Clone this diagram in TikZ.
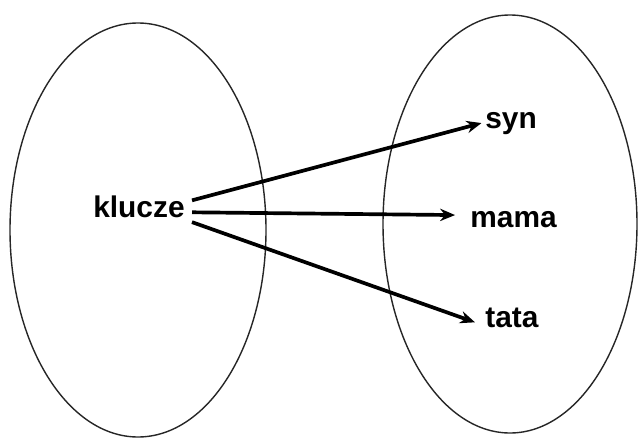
\documentclass[tikz,border=0pt]{standalone}
\usepackage{fontspec}
\setmainfont{Liberation Sans}
\usepackage{tikz}
\usetikzlibrary{
    arrows.meta,
    calc,
    positioning
}

\begin{document}
\begin{tikzpicture}[x=0.02cm, y=-0.02cm,
    word/.style={font=\fontsize{17}{20}\selectfont\bfseries, inner sep=2pt},
    set/.style={draw=black!85, line width=0.8pt},
    maps/.style={line width=2.1pt, -{Stealth[length=8.5pt, width=7pt]}}]
                                \useasboundingbox (0, 0) rectangle (638, 439);
                                \draw[set] (138, 230) ellipse [x radius=128, y radius=207];
                                \draw[set] (510, 224) ellipse [x radius=127, y radius=209];
                                \node[word, anchor=base east] (klucze) at (188.5, 217) {klucze};
                                \node[word, anchor=base west] (syn) at (481.5, 128) {syn};
                                \node[word, anchor=base west] (mama) at (466.5, 227) {mama};
                                \node[word, anchor=base west] (tata) at (481.5, 327) {tata};
                                \draw[maps] ([xshift=2pt, yshift=3.4pt]klucze.east) -- (syn.west);
                                \draw[maps] ([xshift=2pt, yshift=-3.4pt]klucze.east) -- ([xshift=-6.5pt, yshift=2.3pt]mama.west);
                                \draw[maps] ([xshift=2pt, yshift=-9pt]klucze.east) -- ([xshift=-3.7pt, yshift=-2.8pt]tata.west);
                            \end{tikzpicture}
\end{document}
